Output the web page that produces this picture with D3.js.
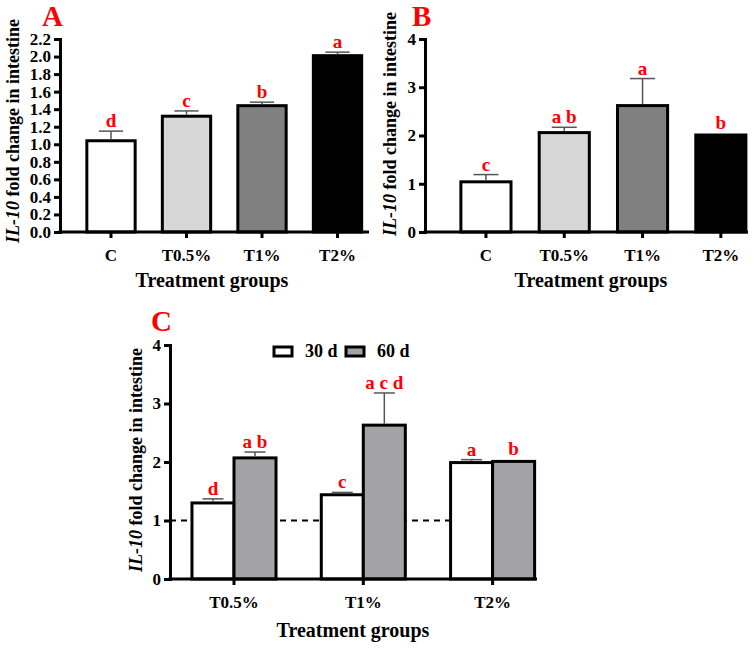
<!DOCTYPE html>
<html>
<head>
<meta charset="utf-8">
<script src="https://cdn.jsdelivr.net/npm/d3@7"></script>
<style>
  body { margin: 0; background: #fff; }
  svg text { font-family: "Liberation Serif", "Times New Roman", serif; font-weight: bold; }
</style>
</head>
<body>
<div id="grafica"></div>
<script>
  // datos
  const gruposAB = ["C", "T0.5%", "T1%", "T2%"];
  const mediaA = [1.04, 1.32, 1.44, 2.01];
  const errorA = [0.11, 0.06, 0.04, 0.04];
  const letrasA = ["d", "c", "b", "a"];
  const ticksA = [0, 0.2, 0.4, 0.6, 0.8, 1.0, 1.2, 1.4, 1.6, 1.8, 2.0, 2.2];

  const mediaB = [1.04, 2.06, 2.62, 2.01];
  const errorB = [0.15, 0.11, 0.56, 0];
  const letrasB = ["c", "a b", "a", "b"];
  const ticksB = [0, 1, 2, 3, 4];

  const gruposC = ["T0.5%", "T1%", "T2%"];
  const series = ["30 d", "60 d"];
  const media30 = [1.30, 1.44, 1.99];
  const error30 = [0.07, 0.04, 0.05];
  const letras30 = ["d", "c", "a"];
  const media60 = [2.07, 2.63, 2.01];
  const error60 = [0.10, 0.55, 0];
  const letras60 = ["a b", "a c d", "b"];
  const ticksC = [0, 1, 2, 3, 4];
  const lineaRef = 1;

  const coloresAB = ["#ffffff", "#d7d7d7", "#808080", "#000000"];
  const coloresC = ["#ffffff", "#a3a3a7"];

  const svg = d3.select("#grafica").append("svg")
    .attr("width", 755).attr("height", 649);

  // eje y generico
  function ejeY(g, y, x0, ticks, fmt) {
    g.append("g")
      .attr("transform", `translate(${x0},0)`)
      .call(d3.axisLeft(y).tickValues(ticks).tickFormat(fmt).tickSizeOuter(0).tickSize(6).tickPadding(3))
      .call(a => a.selectAll("line, path").attr("stroke", "#000").attr("stroke-width", 3))
      .call(a => a.selectAll("text").attr("font-size", 17).attr("fill", "#000")
        .style("font-family", '"Liberation Serif", serif'));
  }

  function ejeX(g, x, y0, x0, x1) {
    const ax = g.append("g")
      .attr("transform", `translate(0,${y0})`)
      .call(d3.axisBottom(x).tickSize(6).tickPadding(11).tickSizeOuter(0));
    ax.select(".domain").remove();
    ax.selectAll("line").attr("stroke", "#000").attr("stroke-width", 3);
    ax.selectAll("text").attr("font-size", 17).attr("fill", "#000")
      .style("font-family", '"Liberation Serif", serif');
    g.append("line").attr("x1", x0 - 1.5).attr("x2", x1).attr("y1", y0).attr("y2", y0)
      .attr("stroke", "#000").attr("stroke-width", 3);
  }

  function tituloY(g, x, y) {
    const t = g.append("text")
      .attr("transform", `translate(${x},${y}) rotate(-90)`)
      .attr("text-anchor", "middle").attr("font-size", 18);
    t.append("tspan").attr("font-style", "italic").text("IL-10");
    t.append("tspan").text(" fold change in intestine");
  }

  function tituloX(g, x, y) {
    g.append("text").attr("x", x).attr("y", y).attr("text-anchor", "middle")
      .attr("font-size", 20).text("Treatment groups");
  }

  function etiqueta(g, txt, x, y) {
    g.append("text").attr("x", x).attr("y", y).attr("fill", "#ff0000")
      .attr("font-size", 29).text(txt);
  }

  // barras con error y letras
  function barras(g, datos, y) {
    const base = y(0);
    const sel = g.selectAll(null).data(datos).enter().append("g");
    sel.append("rect")
      .attr("x", d => d.x).attr("width", d => d.w)
      .attr("y", d => y(d.v)).attr("height", d => base - y(d.v))
      .attr("fill", d => d.c).attr("stroke", "#000").attr("stroke-width", 3);
    sel.filter(d => d.e > 0).append("line")
      .attr("x1", d => d.x + d.w / 2).attr("x2", d => d.x + d.w / 2)
      .attr("y1", d => y(d.v) - 1.5).attr("y2", d => y(d.v + d.e))
      .attr("stroke", "#555").attr("stroke-width", 1.5);
    sel.filter(d => d.e > 0).append("line")
      .attr("x1", d => d.x + d.w / 4).attr("x2", d => d.x + d.w * 3 / 4)
      .attr("y1", d => y(d.v + d.e)).attr("y2", d => y(d.v + d.e))
      .attr("stroke", "#555").attr("stroke-width", 1.5);
    sel.append("text")
      .attr("x", d => d.x + d.w / 2).attr("y", d => y(d.v + d.e) - (d.e > 0 ? 4 : 6))
      .attr("text-anchor", "middle").attr("fill", "#ff0000").attr("font-size", 19)
      .text(d => d.l);
  }

  // Panel A
  const gA = svg.append("g");
  const xA = d3.scaleBand().domain(gruposAB).range([73.25, 375.25]).paddingInner(0.36).paddingOuter(0.18);
  const yA = d3.scaleLinear().domain([0, 2.2]).range([232, 39]);
  barras(gA, gruposAB.map((k, i) => ({ x: xA(k), w: xA.bandwidth(), v: mediaA[i], e: errorA[i], l: letrasA[i], c: coloresAB[i] })), yA);
  ejeX(gA, xA, 232, 60, 369);
  ejeY(gA, yA, 60, ticksA, d3.format(".1f"));
  tituloY(gA, 19, 131);
  tituloX(gA, 212, 287);
  etiqueta(gA, "A", 42, 26);

  // Panel B
  const gB = svg.append("g");
  const xB = d3.scaleBand().domain(gruposAB).range([446.8, 760]).paddingInner(0.36).paddingOuter(0.18);
  const yB = d3.scaleLinear().domain([0, 4]).range([232, 39]);
  barras(gB, gruposAB.map((k, i) => ({ x: xB(k), w: xB.bandwidth(), v: mediaB[i], e: errorB[i], l: letrasB[i], c: coloresAB[i] })), yB);
  ejeX(gB, xB, 232, 425, 748);
  ejeY(gB, yB, 425, ticksB, d3.format("d"));
  tituloY(gB, 396, 124);
  tituloX(gB, 591, 287);
  etiqueta(gB, "B", 412, 26);

  // Panel C
  const gC = svg.append("g");
  const xC = d3.scaleBand().domain(gruposC).range([169.35, 557.25]).paddingInner(0.35).paddingOuter(0.175);
  const xS = d3.scaleBand().domain(series).range([0, xC.bandwidth()]);
  const yC = d3.scaleLinear().domain([0, 4]).range([579, 345]);

  gC.append("line")
    .attr("x1", 170).attr("x2", xC(gruposC[2]))
    .attr("y1", yC(lineaRef)).attr("y2", yC(lineaRef))
    .attr("stroke", "#000").attr("stroke-width", 2).attr("stroke-dasharray", "6,5");

  const datosC = [];
  gruposC.forEach((k, i) => {
    datosC.push({ x: xC(k) + xS("30 d"), w: xS.bandwidth(), v: media30[i], e: error30[i], l: letras30[i], c: coloresC[0] });
    datosC.push({ x: xC(k) + xS("60 d"), w: xS.bandwidth(), v: media60[i], e: error60[i], l: letras60[i], c: coloresC[1] });
  });
  barras(gC, datosC, yC);
  ejeX(gC, xC, 579, 170, 537);
  ejeY(gC, yC, 170, ticksC, d3.format("d"));
  tituloY(gC, 142, 460);
  tituloX(gC, 353, 637);
  etiqueta(gC, "C", 151, 331);

  // Leyenda
  const ley = gC.append("g").selectAll(null).data(series).enter().append("g")
    .attr("transform", (d, i) => `translate(${274 + i * 72},347)`);
  ley.append("rect").attr("width", 18).attr("height", 9)
    .attr("fill", (d, i) => coloresC[i]).attr("stroke", "#000").attr("stroke-width", 3);
  ley.append("text").attr("x", 31).attr("y", 10).attr("font-size", 18).text(d => d);
</script>
</body>
</html>
